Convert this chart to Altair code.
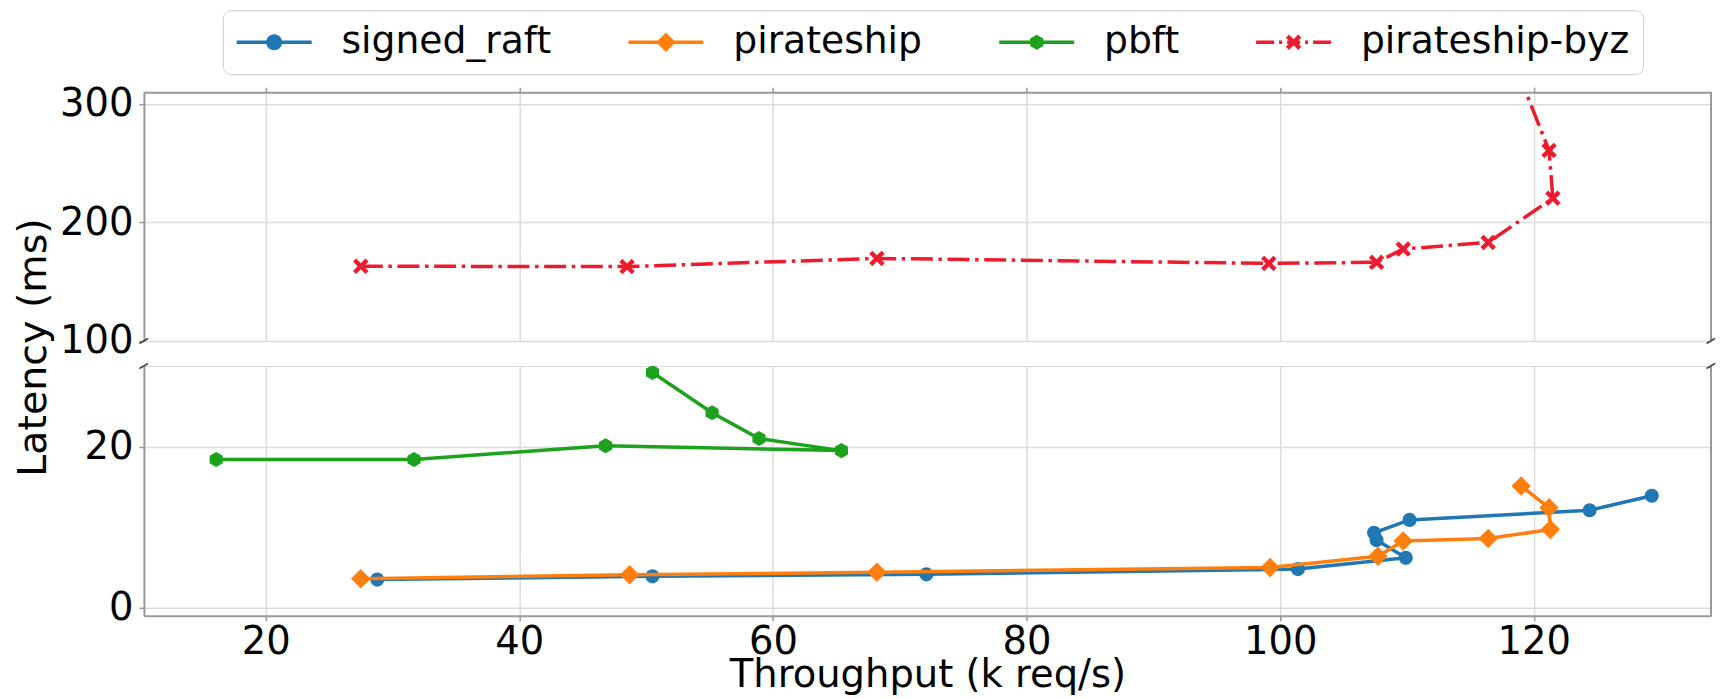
import altair as alt
import pandas as pd

# ---------------- data ----------------
SERIES = ["signed_raft", "pirateship", "pbft", "pirateship-byz"]
COLORS = ["#1f77b4", "#ff7f0e", "#1ca21c", "#ee1b2e"]

raft_tput = [28.8, 50.5, 72.1, 101.4, 109.9, 107.6, 107.4, 110.2, 124.4, 129.3]
raft_lat = [3.5, 3.9, 4.15, 4.8, 6.2, 8.4, 9.3, 10.9, 12.1, 13.9]

ps_tput = [27.5, 48.7, 68.2, 99.2, 107.7, 109.7, 116.4, 121.3, 121.2, 119.0]
ps_lat = [3.6, 4.1, 4.4, 5.0, 6.4, 8.3, 8.6, 9.7, 12.4, 15.1]

pbft_tput = [16.1, 31.7, 46.8, 65.4, 58.9, 55.2, 50.5]
pbft_lat = [18.4, 18.4, 20.1, 19.5, 21.0, 24.2, 29.2]

byz_tput = [27.5, 48.5, 68.2, 99.1, 107.6, 109.7, 116.4, 121.5, 121.2, 119.0]
byz_lat = [163.1, 162.8, 169.7, 165.5, 166.4, 177.6, 183.2, 220.5, 260.8, 320.0]

XTICKS = [20, 40, 60, 80, 100, 120]
TOP_TICKS = [100, 200, 300]
BOT_TICKS = [0, 20]
X_DOMAIN = [10.4, 133.97]
TOP_DOMAIN = [100, 310]
BOT_DOMAIN = [-1, 30]

rows = []
for name, xs, ys in [(SERIES[0], raft_tput, raft_lat), (SERIES[1], ps_tput, ps_lat),
                     (SERIES[2], pbft_tput, pbft_lat), (SERIES[3], byz_tput, byz_lat)]:
    for i, (a, b) in enumerate(zip(xs, ys)):
        rows.append({"series": name, "i": i, "tput": a, "lat": b})
df = pd.DataFrame(rows)

# legend carrier rows (outside the x domain, clipped away)
legend_df = pd.DataFrame({"series": SERIES, "tput": [0.0] * 4, "lat": [0.0] * 4})
one = pd.DataFrame({"k": [0]})

# ---------------- styling ----------------
W, H_TOP, H_BOT = 1568, 249, 250
FONT = "DejaVu Sans"
FS = 38.5
FS_Y = 39.5
FS_LEG = 37.7
SPINE = "#999999"
GRID = "#dcdcdc"
LW = 3.5

# marker paths (unit radius)
HEX = "M0,-1L0.866,-0.5L0.866,0.5L0,1L-0.866,0.5L-0.866,-0.5Z"
XMK = "M-1,-0.6L-0.6,-1L0,-0.4L0.6,-1L1,-0.6L0.4,0L1,0.6L0.6,1L0,0.4L-0.6,1L-1,0.6L-0.4,0Z"
MARKERS = [("circle", 200), ("diamond", 380), (HEX, 230), (XMK, 240)]

# legend symbols: line + marker in one path (unit = 7px)
U = 7.0
CXP = 37.5


def ux(px):
    return -1 + px / U


def rect(x0, x1, th):
    h = th / 2 / U
    return f"M{ux(x0):.3f},{-h:.3f}H{ux(x1):.3f}V{h:.3f}H{ux(x0):.3f}Z"


def circ(rpx):
    c, r = ux(CXP), rpx / U
    return (f"M{c + r:.3f},0A{r:.3f},{r:.3f} 0 1 1 {c - r:.3f},0"
            f"A{r:.3f},{r:.3f} 0 1 1 {c + r:.3f},0Z")


def diam(hpx):
    c, h = ux(CXP), hpx / U
    return f"M{c:.3f},{-h:.3f}L{c + h:.3f},0L{c:.3f},{h:.3f}L{c - h:.3f},0Z"


def poly(pts, s):
    c = ux(CXP)
    return "M" + "L".join(f"{c + px * s:.3f},{py * s:.3f}" for px, py in pts) + "Z"


HEX_PTS = [(0, -1), (0.866, -0.5), (0.866, 0.5), (0, 1), (-0.866, 0.5), (-0.866, -0.5)]
X_PTS = [(-1, -0.6), (-0.6, -1), (0, -0.4), (0.6, -1), (1, -0.6), (0.4, 0), (1, 0.6),
         (0.6, 1), (0, 0.4), (-0.6, 1), (-1, 0.6), (-0.4, 0)]

LEG_SHAPES = [
    rect(0, 75, LW) + circ(8.0),
    rect(0, 75, LW) + diam(9.75),
    rect(0, 75, LW) + poly(HEX_PTS, 7.6 / U),
    rect(0, 18, LW) + rect(23, 26, LW) + rect(31, 44, LW) + rect(49, 52, LW)
    + rect(57, 75, LW) + poly(X_PTS, 7.7 / U),
]

x_scale = alt.Scale(domain=X_DOMAIN, nice=False, zero=False)


def x_enc(top):
    if top:
        axis = alt.Axis(orient="top", values=XTICKS, labels=False, ticks=True, tickSize=5,
                        tickColor=SPINE, tickWidth=1.5, domain=True, domainColor=SPINE,
                        domainWidth=2, grid=True, gridColor=GRID, gridWidth=1.5, title=None)
    else:
        axis = alt.Axis(orient="bottom", values=XTICKS, labelFont=FONT, labelFontSize=FS,
                        labelColor="black", labelPadding=3, tickSize=5, tickColor=SPINE,
                        tickWidth=1.5, domain=True, domainColor=SPINE, domainWidth=2,
                        grid=True, gridColor=GRID, gridWidth=1.5,
                        title="Throughput (k req/s)", titleFont=FONT, titleFontSize=FS,
                        titleFontWeight="normal", titleColor="black", titlePadding=-5)
    return alt.X("tput:Q", scale=x_scale, axis=axis)


def y_enc(top):
    common = dict(labelFont=FONT, labelFontSize=FS, labelColor="black", labelPadding=6,
                  tickSize=5, tickColor=SPINE, tickWidth=1.5, domain=True,
                  domainColor=SPINE, domainWidth=2, grid=True, gridColor=GRID,
                  gridWidth=1.5)
    if top:
        axis = alt.Axis(values=TOP_TICKS, title="Latency (ms)", titleFont=FONT,
                        titleFontSize=FS_Y, titleFontWeight="normal", titleColor="black",
                        titleX=-110, titleY=255, titleAngle=270, titleAlign="center",
                        titleBaseline="middle", **common)
        sc = alt.Scale(domain=TOP_DOMAIN, nice=False, zero=False)
    else:
        axis = alt.Axis(values=BOT_TICKS, title=None, **common)
        sc = alt.Scale(domain=BOT_DOMAIN, nice=False, zero=False)
    return alt.Y("lat:Q", scale=sc, axis=axis)


def series_layers(idx, top):
    name, color = SERIES[idx], COLORS[idx]
    shape, size = MARKERS[idx]
    base = alt.Chart(df).transform_filter(alt.datum.series == name)
    line_kw = dict(color=color, strokeWidth=LW, clip=True)
    if idx == 3:
        line_kw.update(strokeDash=[22, 5.6, 3.5, 5.6])
    line = base.mark_line(**line_kw).encode(x=x_enc(top), y=y_enc(top), order="i:Q")
    pts = base.mark_point(filled=True, shape=shape, size=size, color=color, opacity=1,
                          strokeWidth=0, clip=True).encode(x=x_enc(top), y=y_enc(top))
    return [line, pts]


def decorations(h):
    right = alt.Chart(one).mark_rule(color=SPINE, strokeWidth=2).encode(
        x=alt.value(W), y=alt.value(0), y2=alt.value(h))
    yb = h if h == H_TOP else 0
    brk = [alt.Chart(one).mark_rule(color="#444444", strokeWidth=1.5).encode(
        x=alt.value(x0 - 4.5), x2=alt.value(x0 + 4), y=alt.value(yb + 2.5),
        y2=alt.value(yb - 2.5)) for x0 in (0, W)]
    return [right] + brk


legend_layer = alt.Chart(legend_df).mark_point(filled=True, size=196, opacity=1, clip=True).encode(
    x=x_enc(True), y=y_enc(True),
    color=alt.Color("series:N", scale=alt.Scale(domain=SERIES, range=COLORS), legend=alt.Legend(
        orient="none", legendX=79, legendY=-82, direction="horizontal", title=None,
        labelFont=FONT, labelFontSize=FS_LEG, labelColor="black", labelLimit=600,
        symbolSize=196, symbolOffset=-11, labelOffset=79, columnPadding=76, padding=13,
        strokeColor="#cfcfcf", fillColor="white", cornerRadius=8,
        symbolStrokeWidth=0, symbolOpacity=1)),
    shape=alt.Shape("series:N", scale=alt.Scale(domain=SERIES, range=LEG_SHAPES)),
)

top_layers = series_layers(3, True) + decorations(H_TOP) + [legend_layer]
bot_layers = []
for k in range(3):
    bot_layers += series_layers(k, False)
bot_layers += decorations(H_BOT)

top = alt.layer(*top_layers).properties(width=W, height=H_TOP)
bot = alt.layer(*bot_layers).properties(width=W, height=H_BOT)

chart = alt.vconcat(top, bot, spacing=25, bounds="flush").properties(
    padding={"left": 5, "top": 1, "right": 0, "bottom": 0}
).configure_view(stroke=None).configure(background="white")

chart.save("out.html", embed_options={"renderer": "svg", "actions": False})
